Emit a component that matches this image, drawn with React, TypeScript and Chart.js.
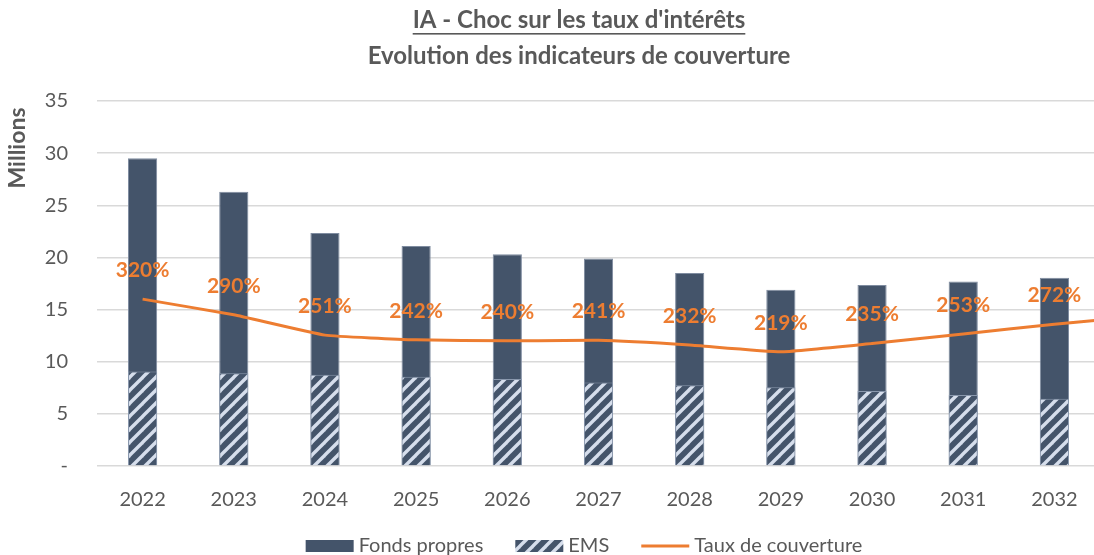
import React, { useEffect, useRef } from "react";
import { Chart, registerables } from "chart.js";

Chart.register(...registerables);

// ---------- data ----------
const categories = ["2022", "2023", "2024", "2025", "2026", "2027", "2028", "2029", "2030", "2031", "2032"];
const fondsPropres = [29.5, 26.3, 22.35, 21.1, 20.3, 19.9, 18.5, 16.9, 17.35, 17.7, 18.05];
const ems = [9.05, 8.9, 8.75, 8.55, 8.35, 8.0, 7.75, 7.55, 7.2, 6.8, 6.45];
const tauxCouverture = [320, 290, 251, 242, 240, 241, 232, 219, 235, 253, 272];
// the line keeps going past the cropped right edge toward the next period
const tauxSuite = [288];
const yTickValues = [0, 5, 10, 15, 20, 25, 30, 35];

const titleLines = ["IA - Choc sur les taux d'intérêts", "Evolution des indicateurs de couverture"];
const unitLabel = "Millions";

// ---------- styles ----------
const NAVY = "#44546A";
const STRIPE = "#D6DEEC";
const ORANGE = "#ED7D31";
const TEXT = "#595959";
const GRID = "#D9D9D9";
const FONT = "Lato, 'Open Sans', sans-serif";

function makePattern(): CanvasPattern | string {
  const s = 13;
  const c = document.createElement("canvas");
  c.width = s;
  c.height = s;
  const g = c.getContext("2d");
  if (!g) return NAVY;
  g.fillStyle = NAVY;
  g.fillRect(0, 0, s, s);
  g.strokeStyle = STRIPE;
  g.lineWidth = 3.4;
  g.lineCap = "square";
  const seg = (x1: number, y1: number, x2: number, y2: number) => {
    g.beginPath();
    g.moveTo(x1, y1);
    g.lineTo(x2, y2);
    g.stroke();
  };
  seg(0, s, s, 0);
  seg(-s / 2, s / 2, s / 2, -s / 2);
  seg(s / 2, s * 1.5, s * 1.5, s / 2);
  const p = g.createPattern(c, "repeat");
  return p || NAVY;
}

export default function App() {
  const ref = useRef<HTMLCanvasElement | null>(null);

  useEffect(() => {
    const canvas = ref.current;
    if (!canvas) return;
    const pattern = makePattern();

    const linePoints = [...tauxCouverture, ...tauxSuite].map((v, i) => ({ x: i, y: v }));

    const titlePlugin = {
      id: "customTitle",
      afterDraw(chart: any) {
        const ctx = chart.ctx;
        const cx = chart.width / 2;
        ctx.save();
        ctx.fillStyle = TEXT;
        ctx.font = `bold 24px ${FONT}`;
        ctx.textAlign = "center";
        ctx.textBaseline = "middle";
        ctx.fillText(titleLines[0], cx, 20);
        const w = ctx.measureText(titleLines[0]).width;
        ctx.fillRect(cx - w / 2, 33, w, 1.6);
        ctx.fillText(titleLines[1], cx, 56);
        // unit label
        ctx.translate(18, 148);
        ctx.rotate(-Math.PI / 2);
        ctx.font = `bold 23px ${FONT}`;
        ctx.fillText(unitLabel, 0, 0);
        ctx.restore();
      },
    };

    const dataLabelPlugin = {
      id: "lineLabels",
      afterDatasetsDraw(chart: any) {
        const ctx = chart.ctx;
        const meta = chart.getDatasetMeta(0);
        ctx.save();
        ctx.fillStyle = ORANGE;
        ctx.font = `bold 21px ${FONT}`;
        ctx.textAlign = "center";
        ctx.textBaseline = "middle";
        meta.data.forEach((pt: any, i: number) => {
          if (i >= tauxCouverture.length) return;
          ctx.fillText(`${tauxCouverture[i]}%`, pt.x, pt.y - 29);
        });
        ctx.restore();
      },
    };

    const legendPlugin = {
      id: "customLegend",
      afterDraw(chart: any) {
        const ctx = chart.ctx;
        const ds = chart.data.datasets;
        const items = [ds[2], ds[1], ds[0]];
        ctx.save();
        ctx.font = `20px ${FONT}`;
        const boxW = 48;
        const gap = 5;
        const itemGap = 32;
        const widths = items.map((d: any) => boxW + gap + ctx.measureText(d.label).width);
        const total = widths.reduce((a: number, b: number) => a + b, 0) + itemGap * (items.length - 1);
        let x = chart.width / 2 + 5 - total / 2;
        const cy = 546;
        items.forEach((d: any, i: number) => {
          if (d.type === "line") {
            ctx.strokeStyle = d.borderColor;
            ctx.lineWidth = 3;
            ctx.beginPath();
            ctx.moveTo(x, cy);
            ctx.lineTo(x + boxW, cy);
            ctx.stroke();
          } else {
            ctx.fillStyle = d.backgroundColor;
            ctx.fillRect(x, cy - 6, boxW, 12);
          }
          ctx.fillStyle = TEXT;
          ctx.textAlign = "left";
          ctx.textBaseline = "middle";
          ctx.fillText(d.label, x + boxW + gap, cy);
          x += widths[i] + itemGap;
        });
        ctx.restore();
      },
    };

    const chart = new Chart(canvas, {
      type: "bar",
      data: {
        labels: categories,
        datasets: [
          {
            type: "line",
            label: "Taux de couverture",
            data: linePoints as any,
            xAxisID: "xLine",
            yAxisID: "y2",
            borderColor: ORANGE,
            backgroundColor: ORANGE,
            borderWidth: 3,
            pointRadius: 0,
            tension: 0.12,
            order: 0,
          } as any,
          {
            type: "bar",
            label: "EMS",
            data: ems,
            xAxisID: "x",
            yAxisID: "y",
            backgroundColor: pattern as any,
            borderColor: "#8A98AD",
            borderWidth: 1,
            grouped: false,
            barPercentage: 0.32,
            categoryPercentage: 1,
            order: 1,
          } as any,
          {
            type: "bar",
            label: "Fonds propres",
            data: fondsPropres,
            xAxisID: "x",
            yAxisID: "y",
            backgroundColor: NAVY,
            borderColor: "#7F8CA0",
            borderWidth: 1,
            grouped: false,
            barPercentage: 0.32,
            categoryPercentage: 1,
            order: 2,
          } as any,
        ],
      },
      options: {
        responsive: false,
        animation: false,
        layout: { padding: { top: 101, left: 0, right: 58, bottom: 0 } },
        plugins: {
          legend: { display: false },
          title: { display: false },
          tooltip: { enabled: false },
        },
        scales: {
          x: {
            type: "category",
            offset: true,
            grid: { display: false },
            border: { display: false },
            ticks: {
              color: TEXT,
              font: { family: FONT, size: 20 },
              padding: 14,
              maxRotation: 0,
              autoSkip: false,
            },
            afterFit(scale: any) {
              scale.height = 89;
            },
          },
          xLine: {
            type: "linear",
            display: false,
            offset: false,
            grace: 0,
            bounds: "data",
            grid: { offset: false },
            min: -0.5,
            max: categories.length - 0.5,
          },
          y: {
            type: "linear",
            min: yTickValues[0],
            max: yTickValues[yTickValues.length - 1],
            grid: { color: GRID, lineWidth: 1.5, drawTicks: false },
            border: { display: false },
            afterBuildTicks(scale: any) {
              scale.ticks = yTickValues.map((v) => ({ value: v }));
            },
            ticks: {
              color: TEXT,
              font: { family: FONT, size: 20 },
              padding: 29,
              callback: (v: any) => (Number(v) === 0 ? "-" : String(v)),
            },
            afterFit(scale: any) {
              scale.width = 97;
            },
          },
          y2: {
            type: "linear",
            display: false,
            min: 0,
            max: 700,
          },
        },
      } as any,
      plugins: [titlePlugin, dataLabelPlugin, legendPlugin],
    });

    return () => chart.destroy();
  }, []);

  return (
    <div
      style={{
        position: "fixed",
        left: 0,
        top: 0,
        width: 1094,
        height: 555,
        overflow: "hidden",
        background: "#ffffff",
      }}
    >
      <canvas ref={ref} width={1158} height={555} style={{ display: "block", width: 1158, height: 555 }} />
    </div>
  );
}
